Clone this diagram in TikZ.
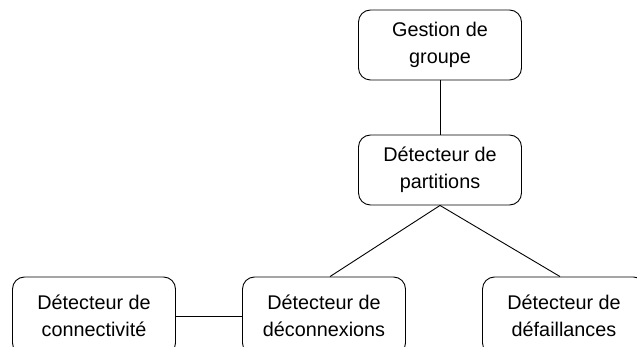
\documentclass[tikz,border=0pt]{standalone}
\usepackage{fontspec}
\setmainfont{Liberation Sans}
\begin{document}
\begin{tikzpicture}[x=1pt,y=-1pt,
  box/.style={draw=black, line width=0.9pt, rounded corners=12pt,
    minimum width=163pt, minimum height=70pt, align=center,
    font=\fontsize{19.8}{27.5}\selectfont, inner sep=0pt},
  lowbox/.style={box, minimum height=78pt},
  link/.style={draw=black, line width=0.9pt}]
  \useasboundingbox (0,0) rectangle (637,347);
  \clip (0,0) rectangle (637,347);

  \node[box]    (gestion)  at (440,45)  {Gestion de\\groupe};
  \node[box]    (partit)   at (440,170) {Détecteur de\\partitions};
  \node[lowbox] (connect)  at (94,316)  {Détecteur de\\connectivité};
  \node[lowbox] (deconn)   at (324,316) {Détecteur de\\déconnexions};
  \node[lowbox] (defaill)  at (564,316) {Détecteur de\\défaillances};

  \draw[link] (gestion.south) -- (partit.north);
  \draw[link] (partit.south) -- ([xshift=6pt]deconn.north);
  \draw[link] (partit.south) -- ([xshift=-4pt]defaill.north);
  \draw[link] (connect.east) -- (deconn.west);
\end{tikzpicture}
\end{document}
